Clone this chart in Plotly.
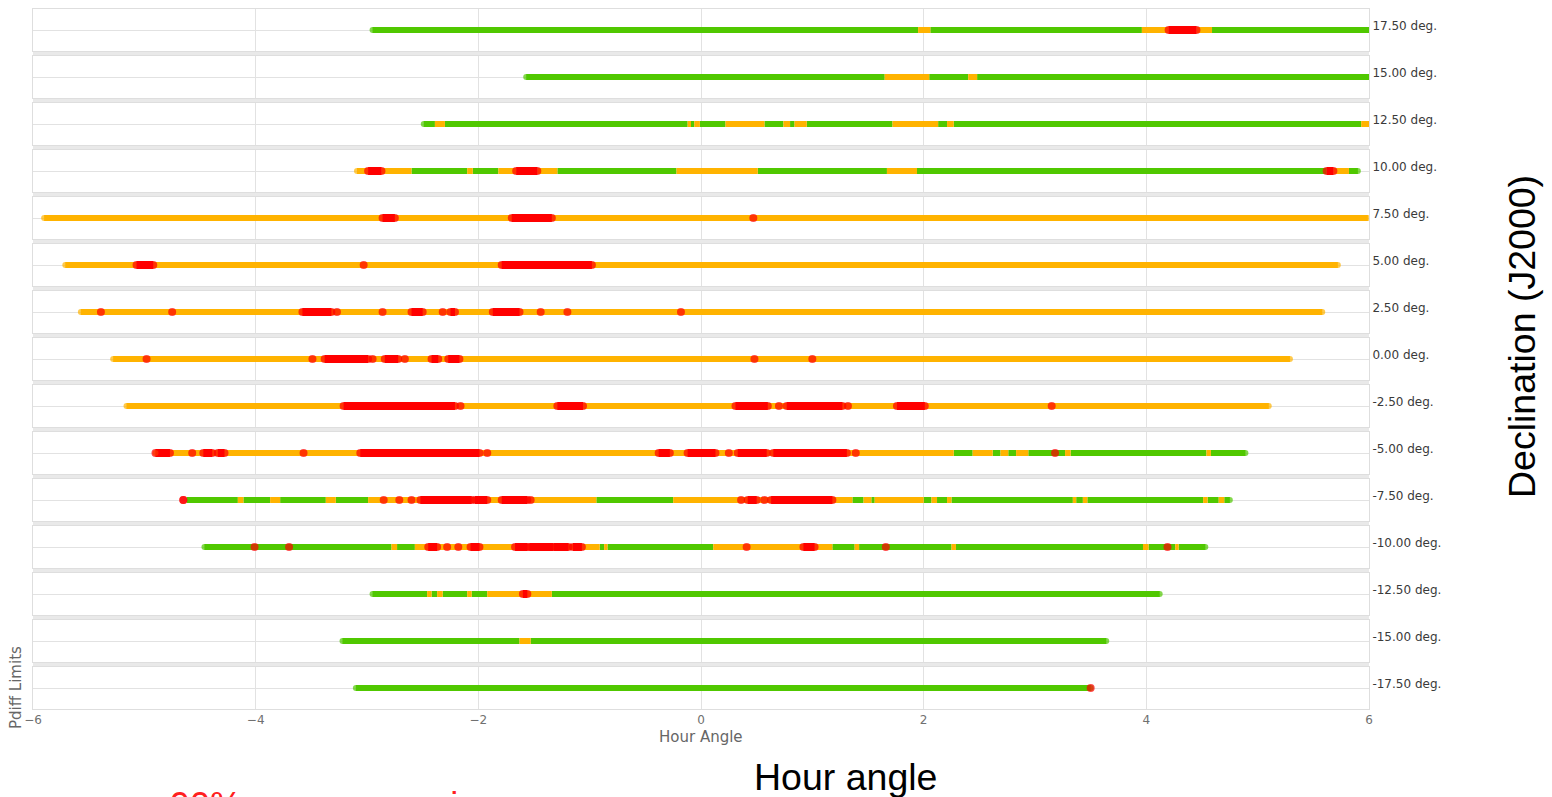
import plotly.graph_objects as go
from plotly.subplots import make_subplots

# Declination of each strip, top to bottom
DECLINATIONS = [17.5, 15.0, 12.5, 10.0, 7.5, 5.0, 2.5, 0.0,
                -2.5, -5.0, -7.5, -10.0, -12.5, -15.0, -17.5]

# Hour-angle tick values on the shared x axis
HA_TICKS = [-6, -4, -2, 0, 2, 4, 6]

# Status runs per declination: (hour angle start, hour angle end, status)
# G = within limits, O = warning, R = outside limits; start == end is a single sample
dec_p17_50 = [(-2.95, 1.95, "G"), (1.95, 2.06, "O"), (2.06, 3.96, "G"), (3.96, 4.20, "O"),
              (4.20, 4.45, "R"), (4.45, 4.59, "O"), (4.59, 6.00, "G")]
dec_p15_00 = [(-1.57, 1.65, "G"), (1.65, 2.05, "O"), (2.05, 2.40, "G"), (2.40, 2.48, "O"),
              (2.48, 6.00, "G")]
dec_p12_50 = [(-2.49, -2.39, "G"), (-2.39, -2.30, "O"), (-2.30, -0.12, "G"), (-0.12, -0.09, "O"),
              (-0.09, -0.06, "G"), (-0.06, -0.01, "O"), (-0.01, 0.22, "G"), (0.22, 0.57, "O"),
              (0.57, 0.74, "G"), (0.74, 0.80, "O"), (0.80, 0.84, "G"), (0.84, 0.95, "O"),
              (0.95, 1.72, "G"), (1.72, 2.13, "O"), (2.13, 2.21, "G"), (2.21, 2.27, "O"),
              (2.27, 5.93, "G"), (5.93, 6.00, "O")]
dec_p10_00 = [(-3.09, -2.99, "O"), (-2.99, -2.87, "R"), (-2.87, -2.60, "O"), (-2.60, -2.10, "G"),
              (-2.10, -2.05, "O"), (-2.05, -1.82, "G"), (-1.82, -1.66, "O"), (-1.66, -1.47, "R"),
              (-1.47, -1.29, "O"), (-1.29, -0.22, "G"), (-0.22, 0.51, "O"), (0.51, 1.67, "G"),
              (1.67, 1.94, "O"), (1.94, 5.62, "G"), (5.62, 5.68, "R"), (5.68, 5.82, "O"),
              (5.82, 5.90, "G")]
dec_p07_50 = [(-5.90, 5.99, "O"), (-2.86, -2.75, "R"), (-1.70, -1.34, "R"), (0.47, 0.47, "R")]
dec_p05_00 = [(-5.71, 5.72, "O"), (-5.07, -4.92, "R"), (-3.03, -3.03, "R"), (-1.79, -0.98, "R")]
dec_p02_50 = [(-5.57, 5.58, "O"), (-5.39, -5.39, "R"), (-4.75, -4.75, "R"), (-3.58, -3.32, "R"),
              (-3.27, -3.27, "R"), (-2.86, -2.86, "R"), (-2.60, -2.50, "R"), (-2.32, -2.32, "R"),
              (-2.25, -2.21, "R"), (-1.87, -1.63, "R"), (-1.44, -1.44, "R"), (-1.20, -1.20, "R"),
              (-0.18, -0.18, "R")]
dec_p00_00 = [(-5.28, 5.29, "O"), (-4.98, -4.98, "R"), (-3.49, -3.49, "R"), (-3.38, -2.99, "R"),
              (-2.95, -2.95, "R"), (-2.84, -2.72, "R"), (-2.66, -2.66, "R"), (-2.42, -2.36, "R"),
              (-2.27, -2.17, "R"), (0.48, 0.48, "R"), (1.00, 1.00, "R")]
dec_m02_50 = [(-5.16, 5.10, "O"), (-3.21, -2.21, "R"), (-2.16, -2.16, "R"), (-1.29, -1.06, "R"),
              (0.31, 0.60, "R"), (0.70, 0.70, "R"), (0.77, 1.27, "R"), (1.32, 1.32, "R"),
              (1.76, 2.01, "R"), (3.15, 3.15, "R")]
dec_m05_00 = [(-4.90, 2.27, "O"), (2.27, 2.44, "G"), (2.44, 2.62, "O"), (2.62, 2.69, "G"),
              (2.69, 2.76, "O"), (2.76, 2.83, "G"), (2.83, 2.94, "O"), (2.94, 3.27, "G"),
              (3.27, 3.32, "O"), (3.32, 4.54, "G"), (4.54, 4.58, "O"), (4.58, 4.89, "G"),
              (-4.90, -4.77, "R"), (-4.57, -4.57, "R"), (-4.47, -4.39, "R"), (-4.34, -4.28, "R"),
              (-3.57, -3.57, "R"), (-3.06, -1.99, "R"), (-1.92, -1.92, "R"), (-0.38, -0.28, "R"),
              (-0.12, 0.13, "R"), (0.25, 0.25, "R"), (0.33, 0.59, "R"), (0.65, 1.31, "R"),
              (1.39, 1.39, "R"), (3.18, 3.18, "R")]
dec_m07_50 = [(-4.62, -4.16, "G"), (-4.16, -4.11, "O"), (-4.11, -3.87, "G"), (-3.87, -3.78, "O"),
              (-3.78, -3.37, "G"), (-3.37, -3.28, "O"), (-3.28, -2.99, "G"), (-2.99, -0.94, "O"),
              (-0.94, -0.25, "G"), (-0.25, 1.36, "O"), (1.36, 1.46, "G"), (1.46, 1.53, "O"),
              (1.53, 1.56, "G"), (1.56, 2.00, "O"), (2.00, 2.07, "G"), (2.07, 2.12, "O"),
              (2.12, 2.21, "G"), (2.21, 2.25, "O"), (2.25, 3.34, "G"), (3.34, 3.37, "O"),
              (3.37, 3.43, "G"), (3.43, 3.47, "O"), (3.47, 4.51, "G"), (4.51, 4.55, "O"),
              (4.55, 4.65, "G"), (4.65, 4.70, "O"), (4.70, 4.75, "G"),
              (-4.65, -4.65, "R"), (-2.85, -2.85, "R"), (-2.71, -2.71, "R"), (-2.60, -2.60, "R"),
              (-2.52, -2.06, "R"), (-2.03, -1.92, "R"), (-1.79, -1.56, "R"), (-1.53, -1.53, "R"),
              (0.36, 0.36, "R"), (0.42, 0.50, "R"), (0.57, 0.57, "R"), (0.63, 1.18, "R")]
dec_m10_00 = [(-4.46, -2.78, "G"), (-2.78, -2.73, "O"), (-2.73, -2.57, "G"), (-2.57, -0.91, "O"),
              (-0.91, -0.87, "G"), (-0.87, -0.84, "O"), (-0.84, 0.11, "G"), (0.11, 1.18, "O"),
              (1.18, 1.38, "G"), (1.38, 1.42, "O"), (1.42, 2.25, "G"), (2.25, 2.29, "O"),
              (2.29, 3.97, "G"), (3.97, 4.02, "O"), (4.02, 4.26, "G"), (4.26, 4.29, "O"),
              (4.29, 4.53, "G"),
              (-4.01, -4.01, "R"), (-3.70, -3.70, "R"), (-2.45, -2.37, "R"), (-2.28, -2.28, "R"),
              (-2.18, -2.18, "R"), (-2.07, -1.99, "R"), (-1.67, -1.56, "R"), (-1.54, -1.33, "R"),
              (-1.32, -1.19, "R"), (-1.15, -1.07, "R"), (0.41, 0.41, "R"), (0.92, 1.02, "R"),
              (1.66, 1.66, "R"), (4.19, 4.19, "R")]
dec_m12_50 = [(-2.95, -2.46, "G"), (-2.46, -2.42, "O"), (-2.42, -2.37, "G"), (-2.37, -2.32, "O"),
              (-2.32, -2.10, "G"), (-2.10, -2.06, "O"), (-2.06, -1.92, "G"), (-1.92, -1.34, "O"),
              (-1.34, 4.12, "G"), (-1.60, -1.56, "R")]
dec_m15_00 = [(-3.22, -1.63, "G"), (-1.63, -1.53, "O"), (-1.53, 3.64, "G")]
dec_m17_50 = [(-3.10, 3.50, "G"), (3.50, 3.50, "R")]

SEGMENTS = [dec_p17_50, dec_p15_00, dec_p12_50, dec_p10_00, dec_p07_50, dec_p05_00,
            dec_p02_50, dec_p00_00, dec_m02_50, dec_m05_00, dec_m07_50, dec_m10_00,
            dec_m12_50, dec_m15_00, dec_m17_50]

STATUS_COLOR = {"G": "#50c800", "O": "#ffb300", "R": "#ff0000"}
STATUS_WIDTH = {"G": 6, "O": 6, "R": 8}

N = len(DECLINATIONS)
L, R, T, B = 33, 183, 9, 88
W, H = 1552, 797
PLOT_H = H - T - B
GAP_PX = 5
fig = make_subplots(rows=N, cols=1, shared_xaxes=True, vertical_spacing=GAP_PX / PLOT_H)

GRID = "#e2e2e2"
BORDER = "#dedede"
TXT_FONT = "DejaVu Sans"

# light grey band behind the strips; each strip gets a white panel on top of it
fig.add_shape(type="rect", xref="paper", yref="paper", x0=0, x1=1, y0=0, y1=1,
              fillcolor="#e9e9e9", line_width=0, layer="below")

for i, (dec, segs) in enumerate(zip(DECLINATIONS, SEGMENTS), start=1):
    suffix = "" if i == 1 else str(i)
    fig.add_shape(type="rect", xref=f"x{suffix} domain", yref=f"y{suffix} domain",
                  x0=0, x1=1, y0=0, y1=1, fillcolor="white", line_width=0, layer="below")

    for status in ["G", "O", "R"]:
        xs, ys = [], []
        for s, e, st in segs:
            if st == status and e > s:
                xs += [s, e, None]
                ys += [0, 0, None]
        if xs:
            fig.add_trace(go.Scatter(x=xs, y=ys, mode="lines", hoverinfo="skip",
                                     line=dict(color=STATUS_COLOR[status],
                                               width=STATUS_WIDTH[status]),
                                     showlegend=False), row=i, col=1)

    # round ends of each strip and of every red run, plus single red samples
    first = min(segs, key=lambda t: t[0])
    last = max(segs, key=lambda t: t[1])
    cap_x = [first[0], last[1]]
    cap_c = [STATUS_COLOR[first[2]], STATUS_COLOR[last[2]]]
    cap_s = [STATUS_WIDTH[first[2]], STATUS_WIDTH[last[2]]]
    for s, e, st in segs:
        if st == "R":
            for v in ([s] if s == e else [s, e]):
                cap_x.append(v)
                cap_c.append(STATUS_COLOR["R"])
                cap_s.append(8)
    fig.add_trace(go.Scatter(x=cap_x, y=[0] * len(cap_x), mode="markers", hoverinfo="skip",
                             marker=dict(color=cap_c, size=cap_s, line_width=0),
                             showlegend=False), row=i, col=1)

    fig.update_yaxes(row=i, col=1, range=[-1, 1], fixedrange=True, side="right",
                     tickvals=[0], ticktext=[f"{dec:.2f} deg."], ticks="",
                     ticklabelshift=-4,
                     tickfont=dict(family=TXT_FONT, size=12, color="#3a3a3a"),
                     showgrid=True, gridcolor=GRID, gridwidth=1, zeroline=False,
                     showline=True, mirror=True, linecolor=BORDER, linewidth=1)
    fig.update_xaxes(row=i, col=1, range=[-6, 6], tickvals=HA_TICKS, ticks="",
                     showgrid=True, gridcolor=GRID, gridwidth=1, zeroline=False,
                     showline=True, mirror=True, linecolor=BORDER, linewidth=1,
                     tickfont=dict(family=TXT_FONT, size=12, color="#707070"))


def px_x(p):
    return (p - L) / (W - L - R)


def px_y(p):
    return (H - B - p) / PLOT_H


fig.update_layout(
    width=W, height=H,
    margin=dict(l=L, r=R, t=T, b=B),
    paper_bgcolor="white", plot_bgcolor="white",
    showlegend=False,
    annotations=[
        dict(text="Hour Angle", xref="paper", yref="paper", x=0.5, y=px_y(737),
             xanchor="center", yanchor="middle", showarrow=False,
             font=dict(family=TXT_FONT, size=15, color="#666666")),
        dict(text="Pdiff Limits", xref="paper", yref="paper", x=px_x(16), y=px_y(688),
             xanchor="center", yanchor="middle", textangle=-90, showarrow=False,
             font=dict(family=TXT_FONT, size=15, color="#666666")),
        dict(text="Hour angle", xref="paper", yref="paper", x=px_x(846), y=px_y(777),
             xanchor="center", yanchor="middle", showarrow=False,
             font=dict(family="Liberation Sans", size=37.5, color="black")),
        dict(text="Declination (J2000)", xref="paper", yref="paper", x=px_x(1522),
             y=px_y(336), xanchor="center", yanchor="middle", textangle=-90,
             showarrow=False, font=dict(family="Liberation Sans", size=37.5, color="black")),
        dict(text="90% sources are in", xref="paper", yref="paper", x=px_x(168),
             y=px_y(783), xanchor="left", yanchor="top", showarrow=False,
             font=dict(family="Liberation Sans", size=36, color="#ff2020")),
    ],
)

fig.write_html("out.html")
